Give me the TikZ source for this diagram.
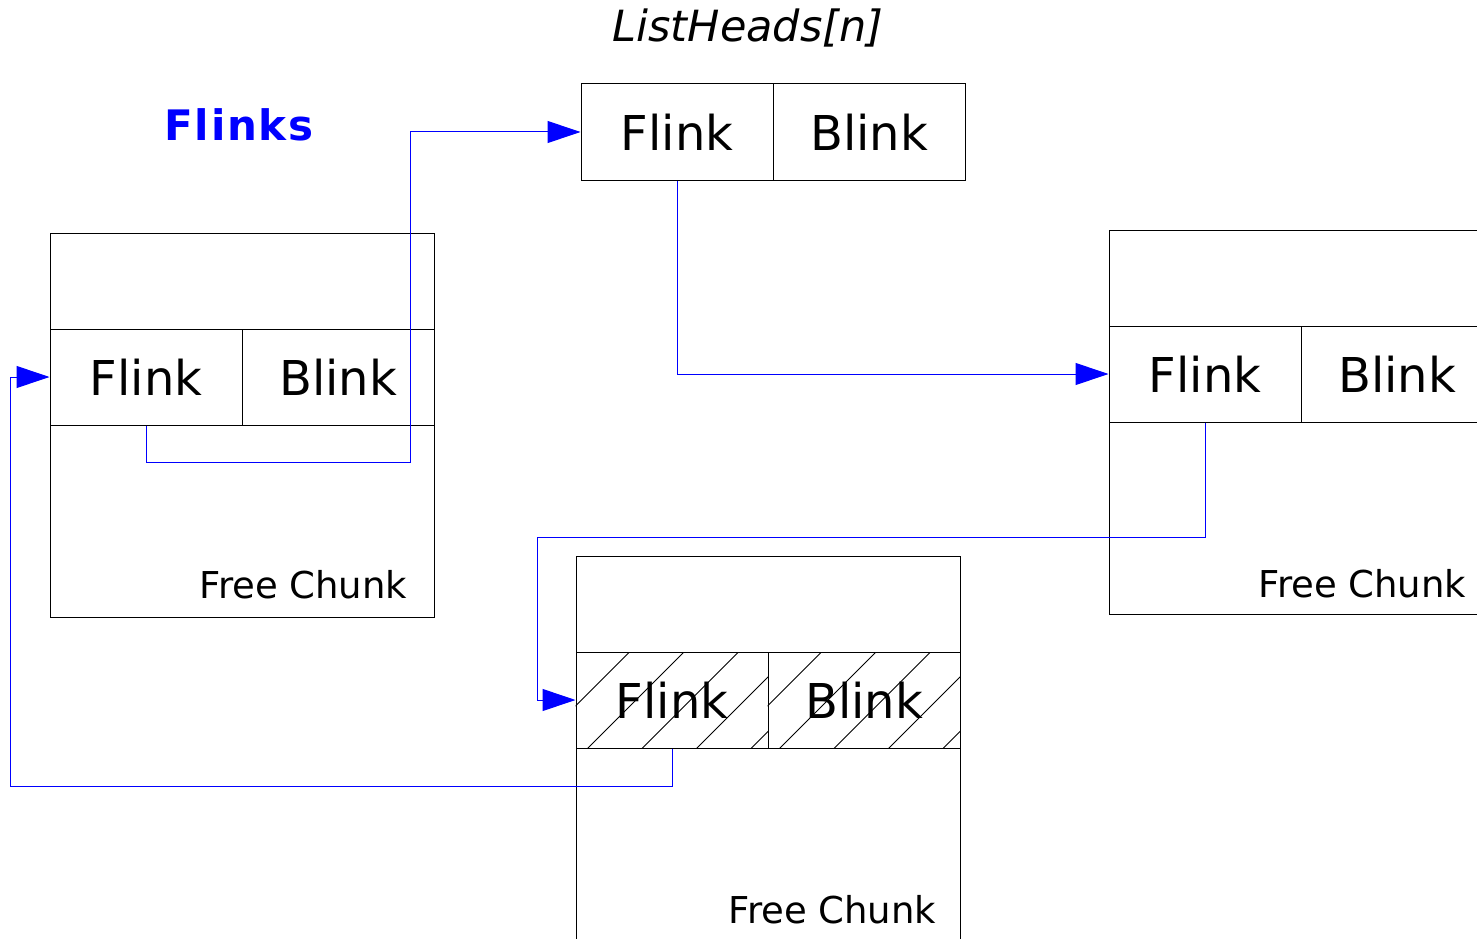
\documentclass[tikz,border=0pt]{standalone}
\usepackage{fontspec}
\setmainfont{DejaVu Sans}
\usetikzlibrary{arrows.meta,calc}
\begin{document}
\begin{tikzpicture}[x=1pt,y=-1pt,
  cell/.style={draw,line width=1pt,minimum width=192pt,minimum height=96pt,inner sep=0pt,font=\fontsize{48}{58}\selectfont},
  chunk/.style={draw,line width=1pt,minimum width=384pt,minimum height=384pt,inner sep=0pt},
  lbl/.style={anchor=base east,font=\fontsize{37}{44}\selectfont,inner sep=0pt},
  link/.style={draw=blue,line width=1pt,-{Triangle[length=33pt,width=22pt]}},
  hatch/.style={line width=0.8pt}
]
\useasboundingbox (0,0) rectangle (1477,939);
\clip (0,0) rectangle (1477,939);

% titles
\node[font=\fontsize{43}{50}\selectfont\itshape] (title) at (748,28) {ListHeads[n]};
\node[font=\fontsize{42}{50}\selectfont\bfseries\addfontfeatures{LetterSpace=4}, text=blue] (flinks) at (239,125) {Flinks};

% chunks
\node[chunk] (lc) at (242,425) {};
\node[chunk] (rc) at (1301,422) {};
\node[chunk] (bc) at (768,748) {};

% cells
\node[cell] (hf) at (677,132) {Flink};
\node[cell] (hb) at (869,132) {Blink};
\node[cell] (lf) at (146,377) {Flink};
\node[cell] (lb) at (338,377) {Blink};
\node[cell] (rf) at (1205,374) {Flink};
\node[cell] (rb) at (1397,374) {Blink};
\node[cell] (bf) at (672,700) {Flink};
\node[cell] (bb) at (864,700) {Blink};

% hatching
\foreach \c in {bf,bb}{
  \begin{scope}
    \clip (\c.south west) rectangle (\c.north east);
    \foreach \k in {-2,...,4}
      \draw[hatch] ($(\c.south west)+(12+54.5*\k,0)$) -- ++(96,-96);
  \end{scope}
}

% labels
\node[lbl] (fc1) at ($(lc.south east)+(-27,-19)$) {Free Chunk};
\node[lbl] (fc2) at ($(rc.south east)+(-27,-17)$) {Free Chunk};
\node[lbl] (fc3) at ($(bc.south east)+(-24,-17)$) {Free Chunk};

% connectors
\draw[link] (lf.south) -- ++(0,37) -| ($(hf.west)+(-170,0)$) -- (hf.west);
\draw[link] (hf.south) |- (rf.west);
\draw[link] (rf.south) -- ++(0,115) -| ($(bf.west)+(-38,0)$) -- (bf.west);
\draw[link] (bf.south) -- ++(0,38) -| ($(lf.west)+(-39,0)$) -- (lf.west);
\end{tikzpicture}
\end{document}
